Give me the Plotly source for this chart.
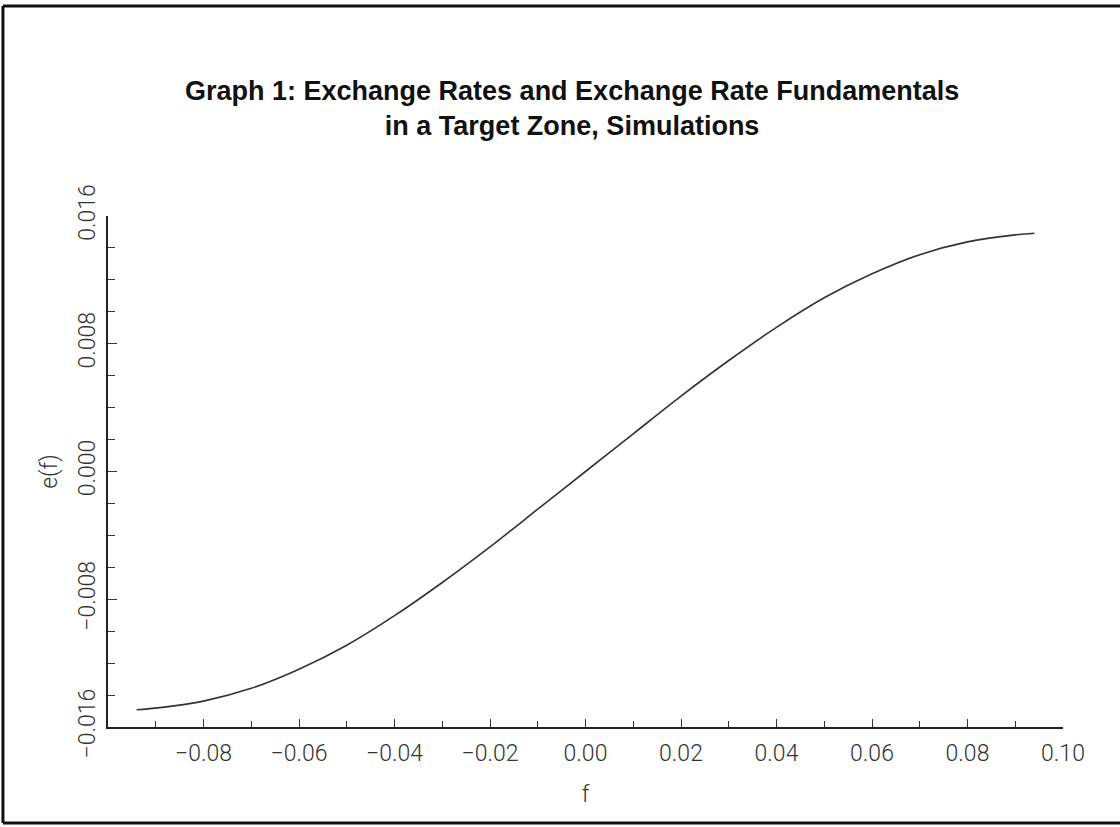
import plotly.graph_objects as go

# Data
f_values = [-0.094, -0.09, -0.08, -0.07, -0.06, -0.05, -0.04, -0.03, -0.02, -0.01,
            0.0, 0.01, 0.02, 0.03, 0.04, 0.05, 0.06, 0.07, 0.08, 0.09, 0.094]
e_values = [-0.01492, -0.01482, -0.01438, -0.01358, -0.01238, -0.01088, -0.00903, -0.00695, -0.00472, -0.00236,
            0.0, 0.00236, 0.00472, 0.00695, 0.00903, 0.01088, 0.01238, 0.01358, 0.01438, 0.01482, 0.01492]

x_ticks = [-0.08, -0.06, -0.04, -0.02, 0.0, 0.02, 0.04, 0.06, 0.08, 0.10]
y_ticks = [-0.016, -0.008, 0.0, 0.008, 0.016]

title_lines = ["Graph 1: Exchange Rates and Exchange Rate Fundamentals",
               "in a Target Zone, Simulations"]
x_title = "f"
y_title = "e(f)"

tick_font = dict(family="Roboto", size=23, color="#333333", weight=300)

fig = go.Figure()
fig.add_trace(go.Scatter(
    x=f_values, y=e_values, mode="lines",
    line=dict(color="#333333", width=1.6, shape="spline", smoothing=0.8),
    showlegend=False, hoverinfo="skip"))

fig.update_layout(
    width=1120, height=827,
    paper_bgcolor="white", plot_bgcolor="white",
    margin=dict(l=108, r=57, t=216, b=100),
    xaxis=dict(range=[-0.1, 0.1], showgrid=False, zeroline=False,
               showline=True, linecolor="#222222", linewidth=2,
               tickmode="array", tickvals=x_ticks, tickformat=".2f",
               ticks="inside", ticklen=8, tickwidth=1.2, tickcolor="#333333",
               minor=dict(dtick=0.01, tick0=0, ticks="inside", ticklen=6, tickwidth=1.2, tickcolor="#333333"),
               tickfont=tick_font, ticklabelstandoff=4,
               title=dict(text=x_title, font=tick_font, standoff=20)),
    yaxis=dict(range=[-0.016, 0.016], showgrid=False, zeroline=False,
               showline=True, linecolor="#222222", linewidth=2,
               tickmode="array", tickvals=y_ticks, tickformat=".3f", tickangle=-90,
               ticks="inside", ticklen=9, tickwidth=1.2, tickcolor="#333333",
               minor=dict(dtick=0.002, tick0=0, ticks="inside", ticklen=7, tickwidth=1.2, tickcolor="#333333"),
               tickfont=tick_font, ticklabelstandoff=2,
               title=dict(text=y_title, font=tick_font, standoff=10)),
)

# two-line title in one text block
title_font = dict(family="Liberation Sans", size=27, color="#111111", weight="bold")
fig.add_annotation(text="<br>".join(title_lines), xref="paper", yref="paper",
                   x=(572 - 108) / 955, y=(727 - 108) / 511,
                   xanchor="center", yanchor="middle", showarrow=False,
                   font=title_font)

# page frame (scanned box border: top, left, bottom)
frame = dict(color="#111111", width=3)
fig.add_shape(type="line", xref="paper", yref="paper", x0=-0.110, x1=1.06, y0=1.411, y1=1.411, line=frame)
fig.add_shape(type="line", xref="paper", yref="paper", x0=-0.110, x1=-0.110, y0=1.411, y1=-0.188, line=frame)
fig.add_shape(type="line", xref="paper", yref="paper", x0=-0.110, x1=1.06, y0=-0.188, y1=-0.188, line=frame)

fig.write_html("out.html", config={"displayModeBar": False},
               post_script="document.body.style.margin='0';")
